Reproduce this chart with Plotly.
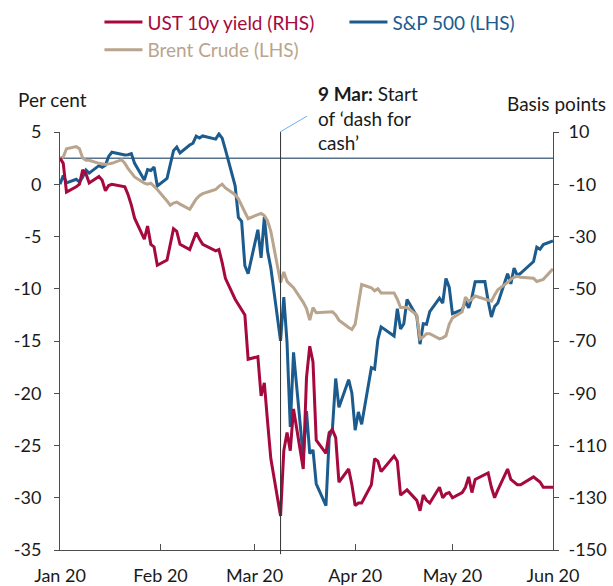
import pandas as pd
import plotly.graph_objects as go

# ---------------- data ----------------
dates = pd.bdate_range("2020-01-01", "2020-06-01")  # weekdays, Jan 1 = base

# S&P 500, % change since start of year (LHS)
sp500 = [
    0.00, 0.84, 0.13,
    0.48, 0.20, 0.69, 1.36, 1.07,
    1.78, 1.62, 1.81, 2.66, 3.06,
    None, 2.79, 2.82, 2.93, 2.00,
    0.40, 1.41, 1.32, 1.64, -0.16,
    0.56, 2.07, 3.22, 3.56, 3.00,
    3.75, 3.93, 4.60, 4.43, 4.62,
    None, 4.32, 4.81, 4.41, 3.31,
    -0.15, -3.17, -3.54, -7.80, -8.56,
    -4.35, -7.04, -3.12, -6.40, -8.00,
    -14.99, -10.79, -15.15, -23.22, -16.09,
    -26.14, -21.72, -25.77, -25.42, -28.66,
    -30.75, -24.25, -23.38, -18.59, -21.34,
    -18.70, -20.00, -23.53, -21.79, -22.97,
    -17.55, -17.69, -14.88, -13.65, None,
    -14.52, -11.91, -13.85, -13.35, -11.03,
    -12.62, -15.30, -13.35, -13.40, -12.20,
    -10.90, -11.37, -9.02, -9.85, -12.38,
    -12.01, -11.22, -11.83, -10.82, -9.32,
    -9.30, -11.16, -12.71, -11.71, -11.36,
    -8.57, -9.53, -8.02, -8.74, -8.52,
    None, -7.40, -6.02, -6.22, -5.77,
    -5.42,
]

# Brent crude (LHS)
brent = [
    2.5, 2.6, 3.4,
    3.6, 3.4, 2.5, 2.3, 2.3,
    2.0, 1.95, 1.9, 1.95, 2.0,
    2.35, 2.0, 1.5, 1.1, 0.7,
    0.1, 0.0, 0.1, -0.2, -0.5,
    -1.6, -2.0, -1.8, -1.7, -1.9,
    -2.4, -1.9, -1.4, -1.1, -0.9,
    -0.6, -0.5, -0.2, 0.0, -0.35,
    -1.0, -1.4, -2.0, -2.6, -3.3,
    -2.9, -2.8, -3.0, -3.5, -4.5,
    -9.4, -8.4, -9.3, -9.6, -9.9,
    -11.3, -11.9, -13.0, -11.8, -12.3,
    -12.2, -12.2, -12.2, -12.5, -13.0,
    -13.7, -13.9, -13.4, -11.5, -9.6,
    -9.9, -10.2, -10.0, -10.4, -10.4,
    -10.4, -11.0, -11.8, -11.8, -11.8,
    -12.5, -14.8, -14.6, -14.3, -14.3,
    -14.8, -14.7, -14.5, -13.4, -12.8,
    -12.2, -10.8, -11.2, -11.0, -10.7,
    -11.0, -11.1, -11.2, -10.6, -10.1,
    -9.4, -9.1, -8.9, -8.8, -8.9,
    -9.0, -9.0, -9.3, -9.2, -9.1,
    -8.1,
]

# UST 10y yield, change in basis points (RHS)
ust10y = [
    0, -2, -13,
    -11, -10, -4.5, -6, -9.5,
    -7, -8.5, -12.5, -10.5, -10,
    None, -11, -14, -18, -23,
    -31, -26, -33, -34, -41,
    -39, -33, -27, -28, -33,
    -35, -31.5, -28.5, -31, -33,
    None, -35.5, -35, -40, -46,
    -54, -56, -58, -60, -77,
    -76, -91, -86, -101, -115,
    -137, -112, -105, -112, -96,
    -119, -84, -72, -78, -108,
    -113, -105, -104, -107, -124,
    -119, -125, -133, -132, -132,
    -125, -115, -116, -120, None,
    -114, -116, -129, -128, -127,
    -131, -135, -129, -131, -132,
    -126, -130, -128.5, -128, -130,
    -128, -126, -122, -128, -123,
    -121, -120.5, -126, -130, -127,
    -119, -123, -124, -125, -125,
    None, -122, -123, -124, -126,
    -126,
]

tick_dates = ["2020-01-01", "2020-02-01", "2020-03-01", "2020-04-01", "2020-05-01", "2020-06-01"]
tick_labels = ["Jan 20", "Feb 20", "Mar 20", "Apr 20", "May 20", "Jun 20"]
left_ticks = [5, 0, -5, -10, -15, -20, -25, -30, -35]
right_ticks = [10, -10, -30, -50, -70, -90, -110, -130, -150]
event_date = "2020-03-09"

# ---------------- styling ----------------
RED = "#A6093D"
BLUE = "#1B5B8D"
TAN = "#B9A58D"
AXIS = "#4d4d4d"
FONT = "Lato"

fig = go.Figure()
fig.add_trace(go.Scatter(
    x=dates, y=sp500, name=f"<span style='color:{BLUE}'>S&P 500 (LHS)</span>",
    mode="lines", line=dict(color=BLUE, width=3), connectgaps=True, legendrank=2,
    hoverinfo="skip"))
fig.add_trace(go.Scatter(
    x=dates, y=brent, name=f"<span style='color:{TAN}'>Brent Crude (LHS)</span>",
    mode="lines", line=dict(color=TAN, width=3), connectgaps=True, legendrank=3,
    hoverinfo="skip"))
fig.add_trace(go.Scatter(
    x=dates, y=ust10y, name=f"<span style='color:{RED}'>UST 10y yield (RHS)</span>",
    mode="lines", line=dict(color=RED, width=3), connectgaps=True, legendrank=1,
    yaxis="y2", hoverinfo="skip"))

fig.update_layout(
    width=613, height=586,
    margin=dict(l=60, r=60, t=132, b=36, autoexpand=False),
    paper_bgcolor="white", plot_bgcolor="white",
    font=dict(family=FONT, size=18, color="#1a1a1a"),
    showlegend=True,
    legend=dict(orientation="h", x=0.08, y=1.308, xanchor="left", yanchor="top",
                entrywidth=192, entrywidthmode="pixels",
                font=dict(size=19), bgcolor="rgba(0,0,0,0)", itemwidth=38),
    xaxis=dict(type="date", range=["2020-01-01", "2020-06-01"],
               tickvals=tick_dates, ticktext=tick_labels,
               ticks="inside", ticklen=6, tickcolor=AXIS,
               showline=True, linecolor=AXIS, linewidth=1,
               showgrid=False, zeroline=False, ticklabelstandoff=9),
    yaxis=dict(range=[-35, 5], tickvals=left_ticks, ticktext=[str(v) for v in left_ticks],
               ticks="outside", ticklen=5, tickcolor=AXIS,
               showline=True, linecolor=AXIS, linewidth=1,
               showgrid=False, zeroline=False, ticklabelstandoff=9),
    yaxis2=dict(range=[-150, 10], tickvals=right_ticks, ticktext=[str(v) for v in right_ticks],
                overlaying="y", side="right",
                ticks="outside", ticklen=5, tickcolor=AXIS,
                showline=True, linecolor=AXIS, linewidth=1,
                showgrid=False, zeroline=False, ticklabelstandoff=6),
    shapes=[
        dict(type="line", xref="paper", x0=0, x1=1, yref="y2", y0=0, y1=0,
             line=dict(color="#58728C", width=1.5), layer="below"),
        dict(type="line", xref="x", x0=event_date, x1=event_date,
             yref="paper", y0=-0.01, y1=1.0, line=dict(color="#333333", width=1)),
        dict(type="line", xref="paper", x0=(280 - 60) / 493, x1=(307 - 60) / 493,
             yref="paper", y0=1.0, y1=1.038, line=dict(color="#6CB4EE", width=1)),
    ],
    annotations=[
        dict(text="Per cent", xref="paper", yref="paper", x=-0.016, y=1.0766,
             showarrow=False, xanchor="center", yanchor="middle", font=dict(size=19)),
        dict(text="Basis points", xref="paper", yref="paper", x=(608 - 60) / 493, y=1.067,
             showarrow=False, xanchor="right", yanchor="middle", font=dict(size=19)),
        dict(text="<b>9 Mar:</b> Start<br>of ‘dash for<br>cash’", xref="paper", yref="paper",
             x=(316 - 60) / 493, y=1.0335, showarrow=False, xanchor="left", yanchor="middle",
             align="left", font=dict(size=19)),
    ],
)

fig.write_html("out.html", config={"displayModeBar": False},
               post_script="document.body.style.margin='0';")
